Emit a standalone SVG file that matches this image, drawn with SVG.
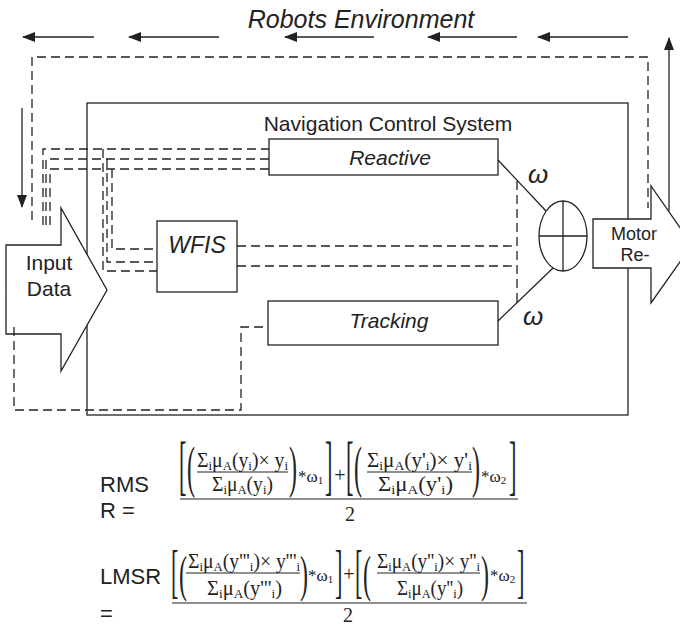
<svg xmlns="http://www.w3.org/2000/svg" width="680" height="629" viewBox="0 0 680 629">
<defs>
<style>
.ln{fill:none;stroke:#222;stroke-width:1.3}
.ds{fill:none;stroke:#222;stroke-width:1.3;stroke-dasharray:9 5}
.bx{fill:#fff;stroke:#222;stroke-width:1.3}
.t{font-family:"Liberation Sans",Arial,sans-serif;fill:#222}
.it{font-style:italic}
.m{font-family:"Liberation Serif","Times New Roman",serif;fill:#222;font-size:20px}
.w{font-family:"Liberation Serif","Times New Roman",serif;fill:#222;font-size:17px}
.sb{font-size:13px}
.sw{font-size:11px}
.bk{font-family:"Liberation Serif","Times New Roman",serif;fill:#222;font-size:32px}
.pr{font-family:"Liberation Serif","Times New Roman",serif;fill:#222;font-size:30px}
.fl{stroke:#222;stroke-width:1}
</style>
<marker id="ah" markerWidth="13" markerHeight="10" refX="12" refY="5" orient="auto" markerUnits="userSpaceOnUse">
<path d="M0,0 L13,5 L0,10 Z" fill="#222"/>
</marker>
</defs>
<rect width="680" height="629" fill="#fff"/>

<text class="t it" x="361" y="28" font-size="25" text-anchor="middle">Robots Environment</text>

<g id="nav-system">
<rect class="ln" x="87" y="103" width="541" height="312"/>
<text class="t" x="388" y="131" font-size="21" text-anchor="middle">Navigation Control System</text>
</g>

<g id="reactive">
<rect class="bx" x="269" y="139" width="229" height="36"/>
<text class="t it" x="390" y="165" font-size="21" text-anchor="middle">Reactive</text>
</g>

<g id="tracking">
<rect class="bx" x="268" y="301" width="230" height="44"/>
<text class="t it" x="389" y="328" font-size="21" text-anchor="middle">Tracking</text>
</g>

<g id="wfis">
<rect class="bx" x="157" y="221" width="80" height="71"/>
<text class="t it" x="197" y="253" font-size="23" text-anchor="middle">WFIS</text>
</g>

<g id="sum">
<ellipse class="bx" cx="563" cy="236" rx="24" ry="35"/>
<line class="ln" x1="539" y1="236" x2="587" y2="236"/>
<line class="ln" x1="563" y1="201" x2="563" y2="271"/>
</g>

<g id="input-data">
<path class="bx" d="M6,245 L61,245 L61,208 L107,290 L61,371 L61,334 L6,334 Z"/>
<text class="t" x="49" y="270" font-size="21" text-anchor="middle">Input</text>
<text class="t" x="49" y="296" font-size="21" text-anchor="middle">Data</text>
</g>

<g id="motor">
<path class="bx" d="M593,219 L651,219 L651,186 L692,245 L651,303 L651,268 L593,268 Z"/>
<text class="t" x="634" y="240" font-size="18" text-anchor="middle">Motor</text>
<text class="t" x="635" y="261" font-size="18" text-anchor="middle">Re-</text>
</g>

<g id="connectors">
<line class="ln" x1="94" y1="37" x2="23" y2="37" marker-end="url(#ah)"/>
<line class="ln" x1="219" y1="37" x2="129" y2="37" marker-end="url(#ah)"/>
<line class="ln" x1="374" y1="37" x2="285" y2="37" marker-end="url(#ah)"/>
<line class="ln" x1="517" y1="37" x2="428" y2="37" marker-end="url(#ah)"/>
<line class="ln" x1="628" y1="37" x2="538" y2="37" marker-end="url(#ah)"/>
<line class="ln" x1="22" y1="108" x2="22" y2="207" marker-end="url(#ah)"/>
<line class="ln" x1="669" y1="211" x2="669" y2="38" marker-end="url(#ah)"/>
<path class="ds" d="M32,220 L32,57 L648,57 L648,208"/>
<path class="ds" d="M43,225 L43,149 L269,149"/>
<path class="ds" d="M46,225 L46,159 L269,159"/>
<path class="ds" d="M50,225 L50,169 L269,169"/>
<path class="ds" d="M103,149 L103,271 L157,271"/>
<path class="ds" d="M107,159 L107,262 L157,262"/>
<path class="ds" d="M112,169 L112,249 L157,249"/>
<path class="ds" d="M237,246 L517,246"/>
<path class="ds" d="M237,266 L517,266"/>
<path class="ds" d="M517,181 L517,302"/>
<path class="ds" d="M14,327 L14,410 L241,410 L241,327 L268,327"/>
<line class="ln" x1="498" y1="160" x2="546" y2="211"/>
<line class="ln" x1="498" y1="321" x2="553" y2="268"/>
<text class="t it" x="538" y="183" font-size="26" text-anchor="middle">ω</text>
<text class="t it" x="533" y="325" font-size="26" text-anchor="middle">ω</text>
</g>

<g id="formula-rmsr">
<text class="t" x="100" y="492" font-size="22">RMS</text>
<text class="t" x="100" y="518" font-size="22">R =</text>
<text class="bk" transform="translate(179,487) scale(0.7,2.05)">[</text>
<text class="pr" transform="translate(187,486) scale(0.8,1.9)">(</text>
<text class="m" x="197" y="467" textLength="91" lengthAdjust="spacingAndGlyphs">Σ<tspan class="sb" dy="3">i</tspan><tspan dy="-3">μ</tspan><tspan class="sb" dy="3">A</tspan><tspan dy="-3">(y</tspan><tspan class="sb" dy="3">i</tspan><tspan dy="-3">)× y</tspan><tspan class="sb" dy="3">i</tspan></text>
<line class="fl" x1="197" y1="472" x2="288" y2="472"/>
<text class="m" x="212" y="491" textLength="61" lengthAdjust="spacingAndGlyphs">Σ<tspan class="sb" dy="3">i</tspan><tspan dy="-3">μ</tspan><tspan class="sb" dy="3">A</tspan><tspan dy="-3">(y</tspan><tspan class="sb" dy="3">i</tspan><tspan dy="-3">)</tspan></text>
<text class="pr" transform="translate(289,486) scale(0.8,1.9)">)</text>
<text class="w" x="298" y="482">*ω<tspan class="sw" dy="2">1</tspan></text>
<text class="bk" transform="translate(325,487) scale(0.7,2.05)">]</text>
<text class="m" x="340" y="482" font-size="18" text-anchor="middle">+</text>
<text class="bk" transform="translate(346,487) scale(0.7,2.05)">[</text>
<text class="pr" transform="translate(354,486) scale(0.8,1.9)">(</text>
<text class="m" x="367" y="467" textLength="105" lengthAdjust="spacingAndGlyphs">Σ<tspan class="sb" dy="3">i</tspan><tspan dy="-3">μ</tspan><tspan class="sb" dy="3">A</tspan><tspan dy="-3">(y'</tspan><tspan class="sb" dy="3">i</tspan><tspan dy="-3">)× y'</tspan><tspan class="sb" dy="3">i</tspan></text>
<line class="fl" x1="367" y1="472" x2="472" y2="472"/>
<text class="m" x="378" y="491" textLength="75" lengthAdjust="spacingAndGlyphs">Σ<tspan class="sb" dy="3">i</tspan><tspan dy="-3">μ</tspan><tspan class="sb" dy="3">A</tspan><tspan dy="-3">(y'</tspan><tspan class="sb" dy="3">i</tspan><tspan dy="-3">)</tspan></text>
<text class="pr" transform="translate(472,486) scale(0.8,1.9)">)</text>
<text class="w" x="481" y="482">*ω<tspan class="sw" dy="2">2</tspan></text>
<text class="bk" transform="translate(509,487) scale(0.7,2.05)">]</text>
<line class="fl" x1="180" y1="499" x2="518" y2="499"/>
<text class="m" x="350" y="521" font-size="21" text-anchor="middle">2</text>
</g>

<g id="formula-lmsr">
<text class="t" x="100" y="584" font-size="22">LMSR</text>
<text class="t" x="100" y="621" font-size="22">=</text>
<text class="bk" transform="translate(171,591) scale(0.7,1.85)">[</text>
<text class="pr" transform="translate(179,591) scale(0.8,1.7)">(</text>
<text class="m" x="188" y="568" textLength="112" lengthAdjust="spacingAndGlyphs">Σ<tspan class="sb" dy="3">i</tspan><tspan dy="-3">μ</tspan><tspan class="sb" dy="3">A</tspan><tspan dy="-3">(y'''</tspan><tspan class="sb" dy="3">i</tspan><tspan dy="-3">)× y'''</tspan><tspan class="sb" dy="3">i</tspan></text>
<line class="fl" x1="186" y1="573" x2="300" y2="573"/>
<text class="m" x="207" y="595" textLength="75" lengthAdjust="spacingAndGlyphs">Σ<tspan class="sb" dy="3">i</tspan><tspan dy="-3">μ</tspan><tspan class="sb" dy="3">A</tspan><tspan dy="-3">(y'''</tspan><tspan class="sb" dy="3">i</tspan><tspan dy="-3">)</tspan></text>
<text class="pr" transform="translate(300,591) scale(0.8,1.7)">)</text>
<text class="w" x="308" y="581">*ω<tspan class="sw" dy="2">1</tspan></text>
<text class="bk" transform="translate(335,591) scale(0.7,1.85)">]</text>
<text class="m" x="349" y="581" font-size="18" text-anchor="middle">+</text>
<text class="bk" transform="translate(355,591) scale(0.7,1.85)">[</text>
<text class="pr" transform="translate(363,591) scale(0.8,1.7)">(</text>
<text class="m" x="377" y="568" textLength="103" lengthAdjust="spacingAndGlyphs">Σ<tspan class="sb" dy="3">i</tspan><tspan dy="-3">μ</tspan><tspan class="sb" dy="3">A</tspan><tspan dy="-3">(y''</tspan><tspan class="sb" dy="3">i</tspan><tspan dy="-3">)× y''</tspan><tspan class="sb" dy="3">i</tspan></text>
<line class="fl" x1="377" y1="573" x2="480" y2="573"/>
<text class="m" x="397" y="595" textLength="66" lengthAdjust="spacingAndGlyphs">Σ<tspan class="sb" dy="3">i</tspan><tspan dy="-3">μ</tspan><tspan class="sb" dy="3">A</tspan><tspan dy="-3">(y''</tspan><tspan class="sb" dy="3">i</tspan><tspan dy="-3">)</tspan></text>
<text class="pr" transform="translate(481,591) scale(0.8,1.7)">)</text>
<text class="w" x="490" y="581">*ω<tspan class="sw" dy="2">2</tspan></text>
<text class="bk" transform="translate(517,591) scale(0.7,1.85)">]</text>
<line class="fl" x1="172" y1="603" x2="527" y2="603"/>
<text class="m" x="348" y="622" font-size="21" text-anchor="middle">2</text>
</g>
</svg>
